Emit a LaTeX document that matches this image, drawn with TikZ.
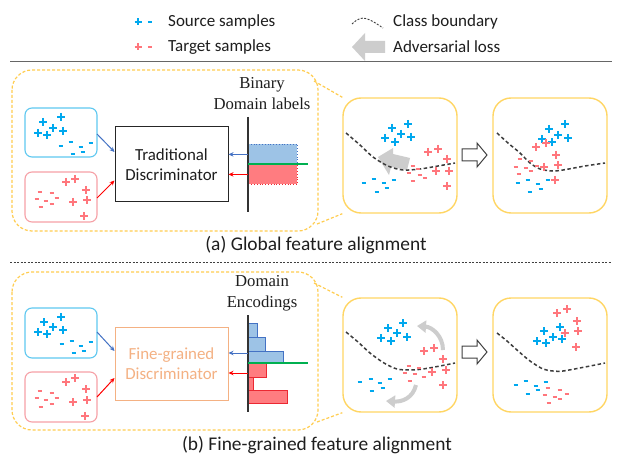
\documentclass[tikz,border=0pt]{standalone}
\usepackage{fontspec}
\setmainfont{Carlito}
\newfontfamily\tnr{Liberation Serif}
\usetikzlibrary{arrows.meta,calc}
\definecolor{srcblue}{RGB}{0,168,238}
\definecolor{tgtred}{RGB}{255,118,124}
\definecolor{sboxc}{RGB}{95,200,240}
\definecolor{tboxc}{RGB}{246,160,166}
\definecolor{yelc}{RGB}{255,205,80}
\definecolor{panelc}{RGB}{255,214,100}
\definecolor{orc}{RGB}{244,177,131}
\definecolor{barbf}{RGB}{157,195,230}
\definecolor{barbd}{RGB}{68,114,196}
\definecolor{barrf}{RGB}{255,124,128}
\definecolor{barrd}{RGB}{235,40,50}
\definecolor{grnc}{RGB}{0,176,80}
\definecolor{arrb}{RGB}{68,114,196}
\definecolor{arrr}{RGB}{255,0,0}
\definecolor{grayarr}{RGB}{205,205,205}
\definecolor{txtc}{RGB}{30,30,30}
\definecolor{bndc}{RGB}{60,60,60}
\tikzset{
  bp/.pic={\draw[srcblue,line width=1.8pt] (-4,0)--(4,0) (0,-4)--(0,4);},
  rp/.pic={\draw[tgtred,line width=1.8pt] (-4,0)--(4,0) (0,-4)--(0,4);},
  bm/.pic={\draw[srcblue,line width=1.3pt] (-2.4,0)--(2.4,0);},
  rm/.pic={\draw[tgtred,line width=1.3pt] (-2.4,0)--(2.4,0);},
  lgbp/.pic={\draw[srcblue,line width=1.2pt] (-3.5,0)--(3.5,0) (0,-3.5)--(0,3.5);},
  lgrp/.pic={\draw[tgtred,line width=1.2pt] (-3.5,0)--(3.5,0) (0,-3.5)--(0,3.5);},
  lgbm/.pic={\draw[srcblue,line width=1.2pt] (-2.2,0)--(2.2,0);},
  lgrm/.pic={\draw[tgtred,line width=1.2pt] (-2.2,0)--(2.2,0);},
  lgtxt/.style={font=\fontsize{17}{20}\selectfont, text=txtc, anchor=west, inner sep=0pt},
  captxt/.style={font=\fontsize{19.4}{23}\selectfont, text=txtc, inner sep=0pt},
  sbox/.style={draw=sboxc, line width=1.1pt, rounded corners=7pt, minimum width=72pt, minimum height=49pt, inner sep=0pt},
  tbox/.style={draw=tboxc, line width=1.1pt, rounded corners=7pt, minimum width=72pt, minimum height=50pt, inner sep=0pt},
  discbox/.style={draw=#1, line width=1pt, minimum width=113pt, align=center, inner sep=0pt, font=\fontsize{16.9}{20.5}\selectfont},
  serlbl/.style={font=\tnr\fontsize{16.7}{21}\selectfont, align=center, text=txtc, inner sep=0pt},
  panel/.style={draw=panelc, line width=1.4pt, rounded corners=18pt, minimum width=114pt, minimum height=115pt, inner sep=0pt},
  callout/.style={draw=yelc, line width=1.2pt, dash pattern=on 3pt off 2pt, rounded corners=20pt},
  calline/.style={draw=yelc, line width=1.2pt, dash pattern=on 3pt off 2pt},
  bnd/.style={draw=bndc, line width=1.5pt, dash pattern=on 3.5pt off 2.5pt},
  axisline/.style={draw=black!80, line width=1.5pt},
  grnline/.style={draw=grnc, line width=1.1pt},
  barb/.style={fill=barbf, draw=barbd, line width=0.8pt, anchor=north west, inner sep=0pt},
  barr/.style={fill=barrf, draw=barrd, line width=0.8pt, anchor=north west, inner sep=0pt},
  barbdot/.style={barb, dotted},
  barrdot/.style={barr, dotted},
  arb/.style={draw=arrb, line width=1pt, -{Stealth[length=5pt,width=4.5pt]}},
  arr/.style={draw=arrr, line width=1pt, -{Stealth[length=5pt,width=4.5pt]}},
  hollow/.style={draw=black!75, line width=1pt, fill=white},
  graycurve/.style={draw=grayarr, line width=4pt, -{Triangle[length=9pt,width=12pt]}}
}
\begin{document}
\begin{tikzpicture}[x=1pt,y=-1pt]
\useasboundingbox[fill=white] (0,0) rectangle (618,465);

% ---------------- legend ----------------
\pic at (138,22) {lgbp}; \pic at (150,22) {lgbm};
\pic at (138,47) {lgrp}; \pic at (150,47) {lgrm};
\node[lgtxt] (lsrc) at (168,22) {Source samples};
\node[lgtxt] (ltgt) at (168,47) {Target samples};
\draw[bndc, line width=0.9pt, dash pattern=on 2pt off 1.5pt] plot[smooth] coordinates {(352,24) (357,20) (363,18) (370,20) (377,24) (383,28)};
\node[lgtxt] (lbnd) at (393,22) {Class boundary};
\fill[grayarr] (352,47) -- (365,33) -- (365,41) -- (385,41) -- (385,53) -- (365,53) -- (365,61) -- cycle;
\node[lgtxt] (ladv) at (393,47) {Adversarial loss};
\draw[black!60, line width=1pt] (10,62) -- (612,62);

% ---------------- (a) ----------------
\draw[callout] (12,70) rectangle (318,231);
\node[panel] (pa1) at (400,155.5) {};
\node[panel] (pa2) at (550,155.5) {};
\draw[calline] (314,81) -- (pa1.north west);
\draw[calline] (317,224) -- (pa1.south west);
\node[sbox] (sa) at (61,132.5) {};
\node[tbox] (ta) at (61,197) {};
\foreach \p in {(43,122),(61,117),(53,128),(38,133),(47,135),(63,131)} \pic at \p {bp};
\foreach \p in {(61,146),(71,142),(81,147),(91,143),(73,154),(83,152)} \pic at \p {bm};
\foreach \p in {(66,182),(75,179),(86,190),(73,202),(87,200),(84,216)} \pic at \p {rp};
\foreach \p in {(40,192),(52,193),(37,199),(46,201),(57,198),(52,204),(41,207)} \pic at \p {rm};
\node[discbox=black!85, minimum height=75pt, text=txtc] (da) at (171.5,164.5) {Traditional\\Discriminator};
\draw[arb] (97,134) -- ($(da.west)+(0,-12.5)$);
\draw[arr] (97,198) -- ($(da.west)+(0,16)$);
\node[serlbl] (binlbl) at (262,93.5) {Binary\\Domain labels};
\node[barbdot, minimum width=49pt, minimum height=20pt] (bba) at (248,144) {};
\node[barrdot, minimum width=49pt, minimum height=20pt] (bra) at (248,164) {};
\draw[axisline] (248,117) -- (248,212);
\draw[grnline] (248,164) -- (308,164);
\draw[arb] (bba.west) -- (bba.west -| da.east);
\draw[arr] (bra.west) -- (bra.west -| da.east);
% panel a1
\foreach \p in {(392,128),(408,124),(401,134),(385,138),(395,142),(411,137)} \pic at \p {bp};
\foreach \p in {(364,183),(374,179),(384,183),(394,180),(377,192),(387,188)} \pic at \p {bm};
\fill[grayarr] (378,157) -- (393,148) -- (393,154) -- (410,158) -- (407,170) -- (391,167) -- (389,175) -- cycle;
\draw[bnd] plot[smooth] coordinates {(346,133) (360,145) (373,157) (388,166) (403,170) (420,169) (438,166) (455,163)};
\foreach \p in {(428,152),(438,149),(447,159),(436,171),(449,171),(447,186)} \pic at \p {rp};
\foreach \p in {(413,166),(418,169),(409,173),(420,175),(425,178),(413,181)} \pic at \p {rm};
% arrow between
\draw[hollow] (462,149) -- (477,149) -- (477,143) -- (487,155) -- (477,167) -- (477,161) -- (462,161) -- cycle;
% panel a2
\draw[bnd] plot[smooth] coordinates {(497,133) (508,143) (520,153) (530,163) (540,169) (552,171) (563,170) (585,166) (605,163)};
\foreach \p in {(549,129),(565,124),(558,135),(542,139),(552,142),(568,138)} \pic at \p {bp};
\foreach \p in {(518,183),(528,180),(538,184),(548,180),(530,192),(541,189)} \pic at \p {bm};
\foreach \p in {(536,147),(546,143),(556,155),(558,165),(544,167),(555,180)} \pic at \p {rp};
\foreach \p in {(520,159),(531,161),(516,167),(526,168),(531,171),(537,166),(519,174)} \pic at \p {rm};

\node[captxt] (capa) at (316,245) {(a) Global feature alignment};
\draw[black!75, line width=0.8pt, dash pattern=on 2pt off 1.5pt] (10,262) -- (612,262);

% ---------------- (b) ----------------
\draw[callout] (12,272) rectangle (318,430);
\node[panel, minimum height=114pt] (pb1) at (400,355) {};
\node[panel, minimum height=114pt] (pb2) at (550,355) {};
\draw[calline] (314,283) -- (pb1.north west);
\draw[calline] (317,422) -- (pb1.south west);
\node[sbox, minimum height=50pt] (sb) at (61,333) {};
\node[tbox] (tb) at (61,397) {};
\foreach \p in {(44,322),(61,317),(53,327),(38,332),(47,334),(63,330)} \pic at \p {bp};
\foreach \p in {(62,344),(72,341),(81,346),(91,342),(74,353),(84,351)} \pic at \p {bm};
\foreach \p in {(66,382),(75,378),(86,389),(73,402),(87,400),(85,416)} \pic at \p {rp};
\foreach \p in {(40,391),(52,393),(37,398),(46,400),(57,398),(52,404),(41,407)} \pic at \p {rm};
\node[discbox=orc, minimum height=73pt, text=orc] (db) at (171.5,363.5) {Fine-grained\\Discriminator};
\draw[arb] (97,332) -- ($(db.west)+(0,-12.5)$);
\draw[arr] (97,397) -- ($(db.west)+(0,14.5)$);
\node[serlbl] (enclbl) at (262,293) {Domain\\Encodings};
\node[barb, minimum width=9pt, minimum height=14pt] (hb1) at (248,323) {};
\node[barb, minimum width=17pt, minimum height=14pt] (hb2) at (248,337) {};
\node[barb, minimum width=35pt, minimum height=12pt] (hb3) at (248,351) {};
\node[barr, minimum width=18pt, minimum height=14pt] (hr1) at (248,363) {};
\node[barr, minimum width=5pt, minimum height=13pt] (hr2) at (248,377) {};
\node[barr, minimum width=39pt, minimum height=13pt] (hr3) at (248,390) {};
\draw[axisline] (248,315) -- (248,412);
\draw[grnline] (248,363) -- (308,363);
\coordinate (hbo) at (248,353);
\coordinate (hro) at (248,373);
\draw[arb] (hbo) -- (hbo -| db.east);
\draw[arr] (hro) -- (hro -| db.east);
% panel b1
\draw[graycurve] (443,350) .. controls (443,336) and (432,327) .. (417,326);
\draw[graycurve] (416,385) .. controls (413,398) and (402,402) .. (386,401);
\draw[bnd] plot[smooth] coordinates {(346,332) (358,342) (370,353) (384,363) (397,369) (410,370) (423,369) (440,366) (455,363)};
\foreach \p in {(388,328),(403,323),(397,333),(381,338),(391,341),(407,337)} \pic at \p {bp};
\foreach \p in {(360,382),(371,379),(380,383),(390,379),(372,391),(383,388)} \pic at \p {bm};
\foreach \p in {(424,351),(434,348),(443,359),(432,372),(446,370),(443,385)} \pic at \p {rp};
\foreach \p in {(409,366),(419,368),(405,373),(415,374),(424,377),(410,381)} \pic at \p {rm};
% arrow between
\draw[hollow] (462,346) -- (477,346) -- (477,340) -- (487,352) -- (477,364) -- (477,358) -- (462,358) -- cycle;
% panel b2
\draw[bnd] plot[smooth] coordinates {(497,333) (507,341) (517,350) (530,361) (543,369) (553,371) (563,371) (585,367) (605,363)};
\foreach \p in {(557,313),(567,309),(577,321),(578,331),(565,333),(576,347)} \pic at \p {rp};
\foreach \p in {(560,327),(544,331),(553,337),(537,341),(546,343),(562,339)} \pic at \p {bp};
\foreach \p in {(516,385),(526,381),(536,386),(546,382),(528,394),(538,390)} \pic at \p {bm};
\foreach \p in {(548,388),(560,390),(567,394),(545,395),(555,397),(560,399),(549,403)} \pic at \p {rm};

\node[captxt] (capb) at (317,445) {(b) Fine-grained feature alignment};
\end{tikzpicture}
\end{document}
